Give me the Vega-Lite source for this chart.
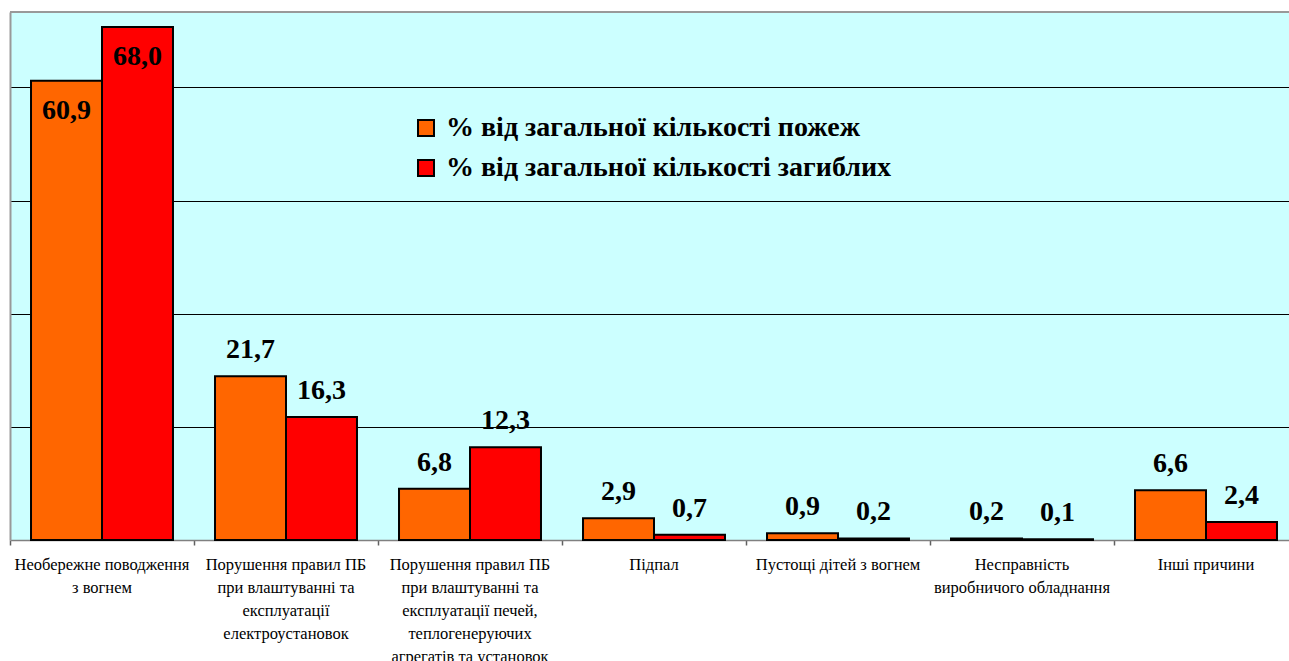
{
  "$schema": "https://vega.github.io/schema/vega-lite/v6.json",
  "width": 1279,
  "height": 528,
  "autosize": {"type": "none"},
  "padding": {"left": 10, "top": 12, "right": 0, "bottom": 121},
  "background": "white",
  "config": {
    "view": {"fill": "#CCFFFF", "stroke": null},
    "font": "Liberation Serif",
    "locale": {"number": {"decimal": ",", "thousands": " ", "grouping": [3], "currency": ["", ""]}}
  },
  "data": {
    "values": [
      {"cat": "Необережне поводження|з вогнем", "series": "% від загальної кількості пожеж", "value": 60.9},
      {"cat": "Необережне поводження|з вогнем", "series": "% від загальної кількості загиблих", "value": 68.0},
      {"cat": "Порушення правил ПБ|при влаштуванні та|експлуатації|електроустановок", "series": "% від загальної кількості пожеж", "value": 21.7},
      {"cat": "Порушення правил ПБ|при влаштуванні та|експлуатації|електроустановок", "series": "% від загальної кількості загиблих", "value": 16.3},
      {"cat": "Порушення правил ПБ|при влаштуванні та|експлуатації печей,|теплогенеруючих|агрегатів та установок", "series": "% від загальної кількості пожеж", "value": 6.8},
      {"cat": "Порушення правил ПБ|при влаштуванні та|експлуатації печей,|теплогенеруючих|агрегатів та установок", "series": "% від загальної кількості загиблих", "value": 12.3},
      {"cat": "Підпал", "series": "% від загальної кількості пожеж", "value": 2.9},
      {"cat": "Підпал", "series": "% від загальної кількості загиблих", "value": 0.7},
      {"cat": "Пустощі дітей з вогнем", "series": "% від загальної кількості пожеж", "value": 0.9},
      {"cat": "Пустощі дітей з вогнем", "series": "% від загальної кількості загиблих", "value": 0.2},
      {"cat": "Несправність|виробничого обладнання", "series": "% від загальної кількості пожеж", "value": 0.2},
      {"cat": "Несправність|виробничого обладнання", "series": "% від загальної кількості загиблих", "value": 0.1},
      {"cat": "Інші причини", "series": "% від загальної кількості пожеж", "value": 6.6},
      {"cat": "Інші причини", "series": "% від загальної кількості загиблих", "value": 2.4}
    ]
  },
  "layer": [
    {
      "mark": {"type": "bar", "stroke": "black", "strokeWidth": 2},
      "encoding": {
        "x": {
          "field": "cat", "type": "nominal", "sort": null,
          "scale": {"range": [0, 1288], "paddingInner": 0, "paddingOuter": 0},
          "axis": {
            "title": null, "labelAngle": 0, "bandPosition": 0,
            "domainColor": "#808080", "domainWidth": 1.5, "tickColor": "#606060", "tickSize": 5, "tickWidth": 1.5,
            "labelFont": "Liberation Serif", "labelFontSize": 16.5, "labelColor": "black",
            "labelLineHeight": 23, "labelPadding": 11, "labelLimit": 0, "labelOverlap": false,
            "labelBound": false, "labelFlush": false, "labelBaseline": "top", "labelAlign": "center",
            "labelExpr": "split(datum.label, '|')"
          }
        },
        "xOffset": {"field": "series", "sort": null, "scale": {"paddingOuter": 0.296, "paddingInner": 0}},
        "y": {
          "field": "value", "type": "quantitative",
          "scale": {"domain": [0, 70], "nice": false},
          "axis": {
            "title": null, "labels": false, "ticks": false,
            "domain": true, "domainColor": "#999999", "domainWidth": 2,
            "grid": true, "gridColor": "black", "gridWidth": 1, "values": [15, 30, 45, 60]
          }
        },
        "color": {
          "field": "series", "type": "nominal", "sort": null,
          "scale": {"domain": ["% від загальної кількості пожеж", "% від загальної кількості загиблих"], "range": ["#FF6600", "#FF0000"]},
          "legend": {
            "title": null, "orient": "none", "legendX": 402, "legendY": 102,
            "symbolType": "square", "symbolSize": 256, "symbolStrokeColor": "black", "symbolStrokeWidth": 2,
            "labelFont": "Liberation Serif", "labelFontSize": 28, "labelFontWeight": "bold", "labelColor": "black",
            "rowPadding": 12, "labelOffset": 6, "labelLimit": 0
          }
        }
      }
    },
    {
      "transform": [{"filter": "datum.value > 50"}],
      "mark": {"type": "text", "dy": 38, "baseline": "alphabetic", "font": "Liberation Serif", "fontSize": 28, "fontWeight": "bold", "color": "black"},
      "encoding": {
        "x": {"field": "cat", "type": "nominal", "sort": null},
        "xOffset": {"field": "series", "sort": null},
        "y": {"field": "value", "type": "quantitative"},
        "text": {"field": "value", "type": "quantitative", "format": ".1f"}
      }
    },
    {
      "transform": [{"filter": "datum.value <= 50"}],
      "mark": {"type": "text", "dy": -18, "baseline": "alphabetic", "font": "Liberation Serif", "fontSize": 28, "fontWeight": "bold", "color": "black"},
      "encoding": {
        "x": {"field": "cat", "type": "nominal", "sort": null},
        "xOffset": {"field": "series", "sort": null},
        "y": {"field": "value", "type": "quantitative"},
        "text": {"field": "value", "type": "quantitative", "format": ".1f"}
      }
    },
    {
      "mark": {"type": "rule", "color": "#999999", "strokeWidth": 2},
      "encoding": {"y": {"datum": 70}}
    }
  ]
}
